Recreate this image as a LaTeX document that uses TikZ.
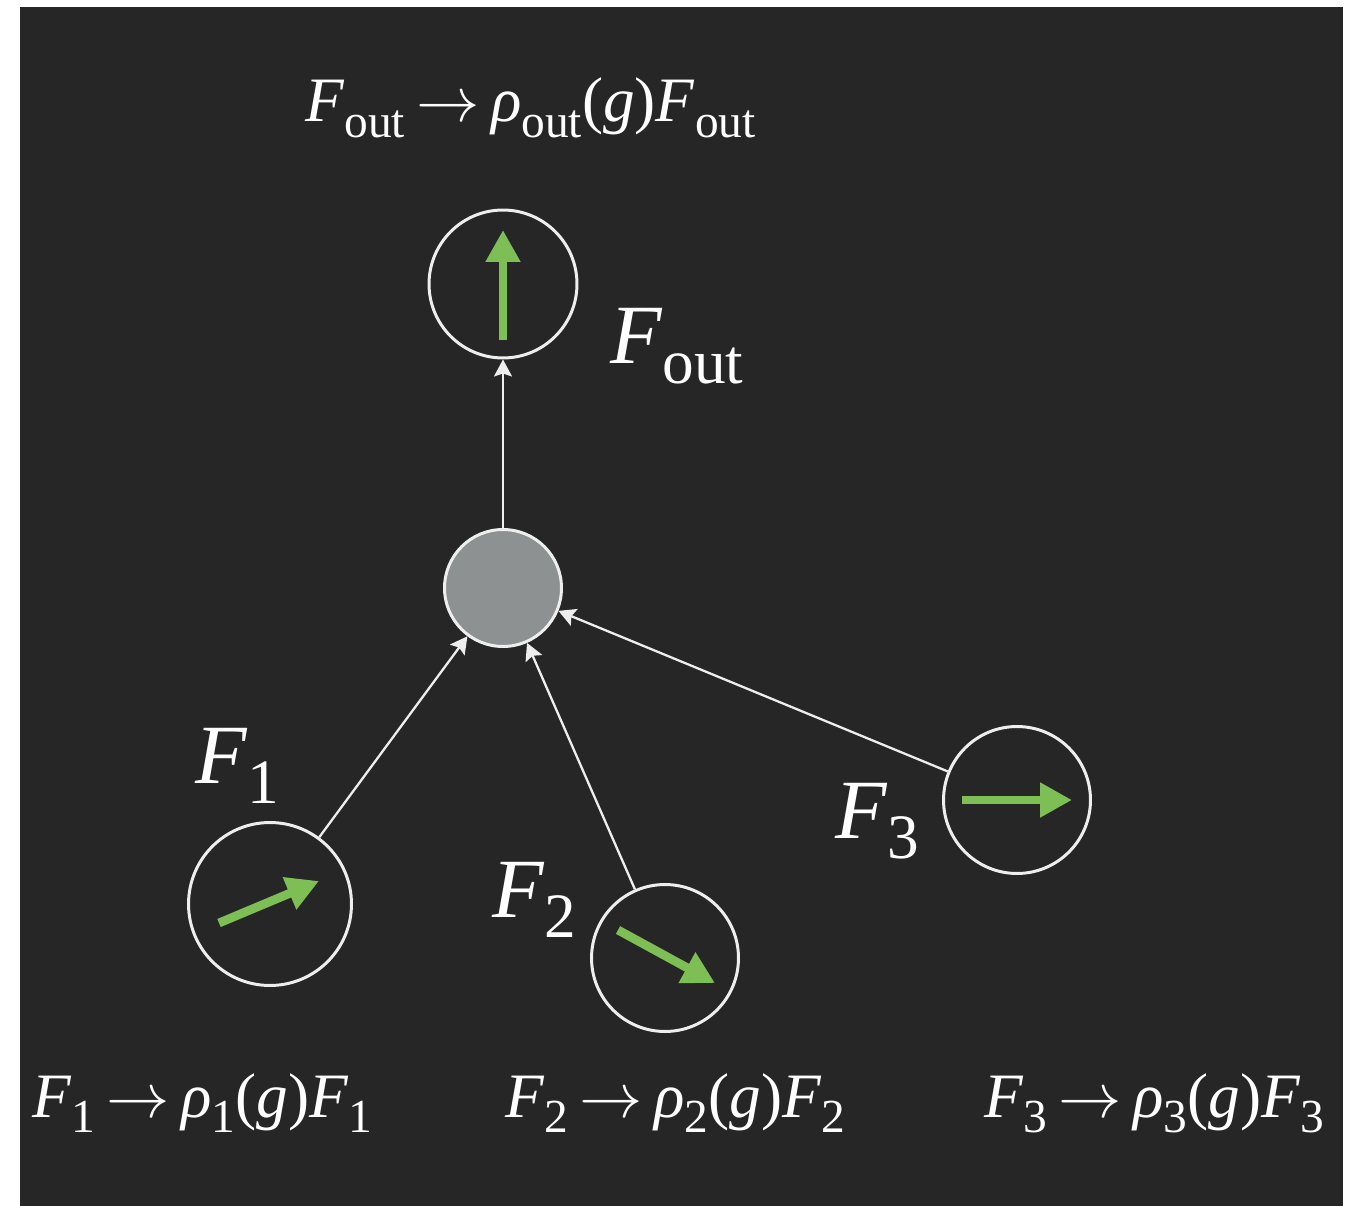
\RequirePackage{fix-cm}
\documentclass[tikz,border=0pt]{standalone}
\usepackage{graphicx}
\usepackage{fontspec}
\setmainfont{Liberation Serif}
\usetikzlibrary{arrows.meta}
\definecolor{fondo}{RGB}{38,38,38}
\definecolor{verde}{RGB}{125,190,85}
\definecolor{gris}{RGB}{141,145,145}
\definecolor{blanco}{RGB}{238,238,238}
\newcommand{\lo}[1]{\raisebox{-0.24em}{\scalebox{0.75}{\upshape #1}}}
\newcommand{\va}{\hspace{0.18em}$\rightarrow$\hspace{0.18em}}
\begin{document}
\begin{tikzpicture}[x=0.02cm, y=-0.02cm,
    burbuja/.style={circle, draw=blanco, line width=1.7pt, inner sep=0pt},
    flecha/.style={draw=blanco, line width=1.3pt, -{Stealth[length=0.34cm, width=0.36cm, inset=0.06cm]}},
    vector/.style={draw=verde, line width=5pt, -{Triangle[length=0.64cm, width=0.66cm]}},
    regla/.style={text=white, inner sep=0pt, anchor=base west, font=\fontsize{36}{44}\selectfont},
    etiqueta/.style={text=white, inner sep=0pt, anchor=base west, font=\fontsize{48}{56}\selectfont}]

    % Fondo oscuro
    \useasboundingbox (0,0) rectangle (1345,1206);
    \fill[fondo] (20,7) rectangle (1343,1206);

    % Nodos (campos de entrada, nodo central y salida)
    \node[burbuja, minimum size=2.96cm] (fout) at (503,284) {};
    \node[burbuja, fill=gris, minimum size=2.34cm] (mix) at (503,588) {};
    \node[burbuja, minimum size=3.26cm] (f1) at (270,904) {};
    \node[burbuja, minimum size=2.94cm] (f2) at (665,958) {};
    \node[burbuja, minimum size=2.94cm] (f3) at (1017,800) {};

    % Conexiones
    \draw[flecha] (mix) -- (fout);
    \draw[flecha] (f1) -- (mix);
    \draw[flecha] (f2) -- (mix);
    \draw[flecha] (f3) -- (mix);

    % Vectores verdes dentro de cada campo
    \draw[vector] (fout.center) ++(0,56) -- ++(0,-110);
    \draw[vector] (f1.center) ++(-51,19) -- ++(100,-42);
    \draw[vector] (f2.center) ++(-47,-28) -- ++(97,53);
    \draw[vector] (f3.center) ++(-55,0) -- ++(110,0);

    % Etiquetas de los campos
    \node[etiqueta] (tout) at (610,363) {\textit{F}\lo{out}};
    \node[etiqueta] (t1) at (195,783) {\textit{F}\lo{1}};
    \node[etiqueta] (t2) at (492,917) {\textit{F}\lo{2}};
    \node[etiqueta] (t3) at (835,838) {\textit{F}\lo{3}};

    % Reglas de transformacion
    \node[regla] (rout) at (305,122) {\textit{F}\lo{out}\va\textit{ρ}\lo{out}(\textit{g})\textit{F}\lo{out}};
    \node[regla] (r1) at (32,1117) {\textit{F}\lo{1}\va\textit{ρ}\lo{1}(\textit{g})\textit{F}\lo{1}};
    \node[regla] (r2) at (505,1117) {\textit{F}\lo{2}\va\textit{ρ}\lo{2}(\textit{g})\textit{F}\lo{2}};
    \node[regla] (r3) at (984,1117) {\textit{F}\lo{3}\va\textit{ρ}\lo{3}(\textit{g})\textit{F}\lo{3}};
\end{tikzpicture}
\end{document}
